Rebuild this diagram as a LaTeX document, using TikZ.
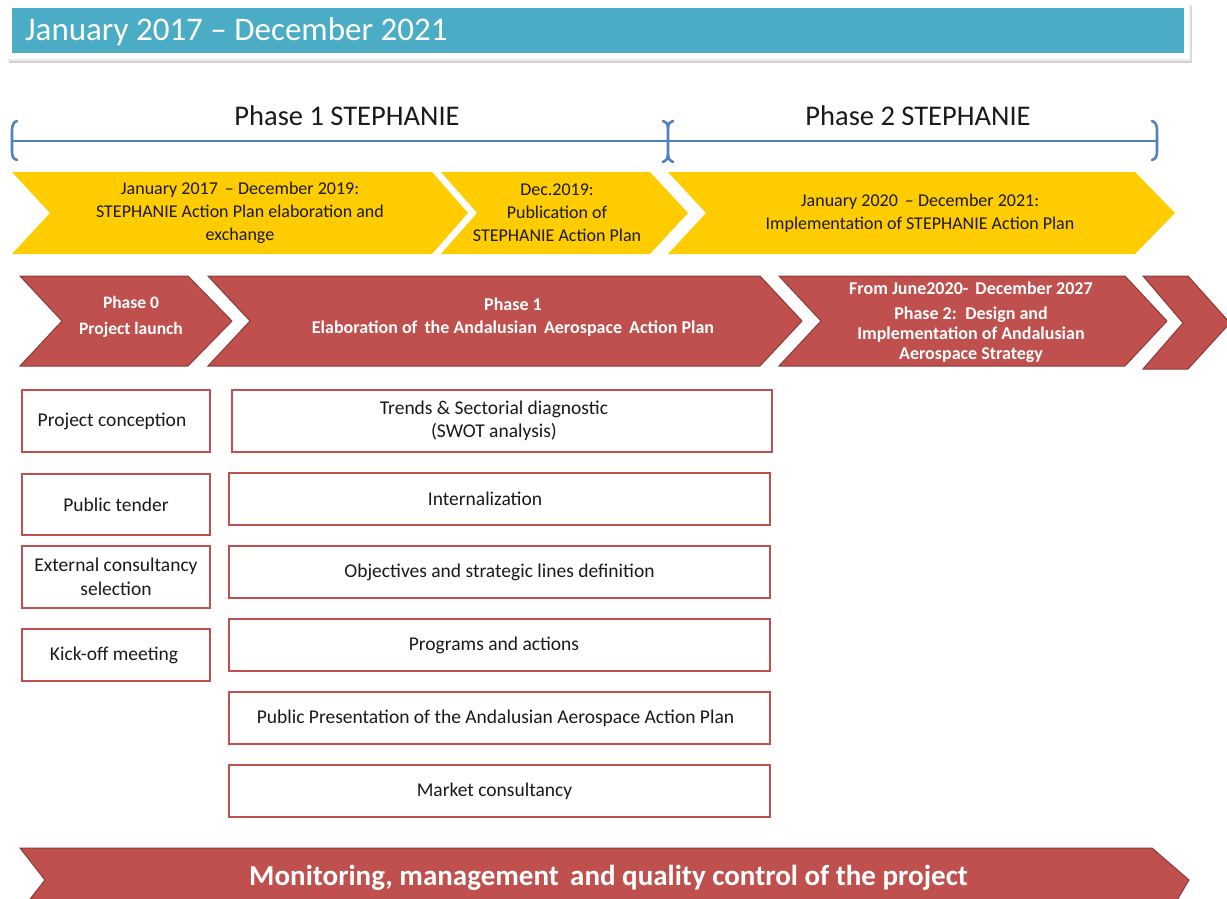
\documentclass[tikz,border=0pt]{standalone}
\usepackage{fontspec}
\setmainfont{Carlito}
\definecolor{titleblue}{HTML}{4BACC6}
\definecolor{yell}{HTML}{FFCC00}
\definecolor{redc}{HTML}{C0504D}
\definecolor{redd}{HTML}{8C3A38}
\definecolor{brblue}{HTML}{4F81BD}
\definecolor{txt}{HTML}{1A1A1A}
\begin{document}
\begin{tikzpicture}[x=1pt,y=-1pt,
  box/.style={draw=redc, line width=1.8pt, fill=white, text=txt, font=\fontsize{19.5}{23.5}\selectfont, align=center, inner sep=0pt},
  ytext/.style={font=\fontsize{18}{23}\selectfont, align=center, text=txt},
  rtext/.style={font=\bfseries\fontsize{18}{24}\selectfont, align=center, text=white},
  ychev/.style={fill=yell},
  rchev/.style={fill=redc, draw=redd, line width=1pt, line join=miter},
  brk/.style={draw=brblue, line width=2.6pt, line cap=round}
]
\useasboundingbox (0,0) rectangle (1227,899);
\begin{scope}
\clip (0,0) rectangle (1227,899);
% title bar
\fill[black!18] (9,6) rectangle (1192,63);
\fill[black!8] (8,4) rectangle (1191,61);
\fill[white] (7,3) rectangle (1189,59);
\fill[titleblue] (12,8) rectangle (1184,53);
\node[anchor=west, text=white, font=\fontsize{33}{38}\selectfont, inner sep=0pt] (title) at (25,32) {January 2017 -- December 2021};

% bracket
\draw[brk] (12,141) -- (1157,141);
\draw[brk] (17,121) .. controls (13,122) and (12,126) .. (12,131) -- (12,151) .. controls (12,156) and (13,159) .. (17,160);
\draw[brk] (663,121) .. controls (667,123) and (668,124) .. (668,128) -- (668,155) .. controls (668,158) and (667,160) .. (663,162);
\draw[brk] (673,121) .. controls (669,123) and (668,124) .. (668,128);
\draw[brk] (673,162) .. controls (669,160) and (668,158) .. (668,155);
\draw[brk] (1152,121) .. controls (1156,122) and (1157,126) .. (1157,131) -- (1157,151) .. controls (1157,156) and (1156,159) .. (1152,160);
\node[font=\fontsize{28.5}{32}\selectfont, text=txt] (ph1) at (347,116) {Phase 1 STEPHANIE};
\node[font=\fontsize{28.5}{32}\selectfont, text=txt] (ph2) at (918,116) {Phase 2 STEPHANIE};

% yellow chevrons
\fill[ychev] (12,172) -- (432,172) -- (468,213) -- (432,254) -- (12,254) -- (50,213) -- cycle;
\fill[ychev] (441,172) -- (650,172) -- (688,213) -- (650,254) -- (441,254) -- (477,213) -- cycle;
\fill[ychev] (668,172) -- (1135,172) -- (1175,213) -- (1135,254) -- (668,254) -- (706,213) -- cycle;
\node[ytext] (y1) at (240,213) {January 2017 \,-- December 2019:\\STEPHANIE Action Plan elaboration and\\exchange};
\node[ytext] (y2) at (557,213) {Dec.2019:\\Publication of\\STEPHANIE Action Plan};
\node[ytext] (y3) at (920,213.5) {January 2020 \,-- December 2021:\\Implementation of STEPHANIE Action Plan};

% red chevrons
\filldraw[rchev] (20,276) -- (188,276) -- (232,321) -- (188,366) -- (20,366) -- (62,321) -- cycle;
\filldraw[rchev] (208,276) -- (760,276) -- (802,321) -- (760,366) -- (208,366) -- (250,321) -- cycle;
\filldraw[rchev] (779,276) -- (1125,276) -- (1167,321) -- (1125,366) -- (779,366) -- (821,321) -- cycle;
\filldraw[rchev] (1143,276) -- (1188,276) -- (1230,323) -- (1188,369) -- (1143,369) -- (1183,323) -- cycle;
\node[rtext, font=\bfseries\fontsize{17.5}{26}\selectfont] (r1) at (131,317) {Phase 0\\Project launch};
\node[rtext, font=\bfseries\fontsize{18}{23}\selectfont] (r2) at (513,317.5) {Phase 1\\Elaboration of \,the Andalusian \,Aerospace \,Action Plan};
\node[rtext] (r3t) at (971,288) {From June2020- \,December 2027};
\node[rtext, font=\bfseries\fontsize{18}{20}\selectfont] (r3) at (971,335) {Phase 2: \,Design and\\Implementation of Andalusian\\Aerospace Strategy};

% left column boxes
\node[box, minimum width=188pt, minimum height=62pt] (b1) at (116,421) {Project conception\hspace*{8pt}};
\node[box, minimum width=188pt, minimum height=61pt] (b2) at (116,504.5) {Public tender};
\node[box, minimum width=188pt, minimum height=62pt] (b3) at (116,577) {External consultancy\\selection};
\node[box, minimum width=188pt, minimum height=52pt] (b4) at (116,655) {Kick-off meeting\hspace*{4pt}};

% right column boxes
\node[box, minimum width=540pt, minimum height=62pt] (c1) at (502,421) {Trends \& Sectorial diagnostic\hspace*{16pt}\\(SWOT analysis)\hspace*{16pt}};
\node[box, minimum width=541pt, minimum height=52pt] (c2) at (499.5,499) {Internalization\hspace*{29pt}};
\node[box, minimum width=541pt, minimum height=52pt] (c3) at (499.5,572) {Objectives and strategic lines definition};
\node[box, minimum width=541pt, minimum height=52pt] (c4) at (499.5,645) {Programs and actions\hspace*{11pt}};
\node[box, minimum width=541pt, minimum height=52pt] (c5) at (499.5,718) {Public Presentation of the Andalusian Aerospace Action Plan\hspace*{8pt}};
\node[box, minimum width=541pt, minimum height=52pt] (c6) at (499.5,791) {Market consultancy\hspace*{10pt}};

% bottom arrow
\filldraw[rchev] (20,848) -- (1152,848) -- (1189,880) -- (1170,912) -- (20,912) -- (45,880) -- cycle;
\node[rtext, font=\bfseries\fontsize{29}{33}\selectfont] (mon) at (608.5,878) {Monitoring, management \,and quality control of the project};
\end{scope}
\end{tikzpicture}
\end{document}
